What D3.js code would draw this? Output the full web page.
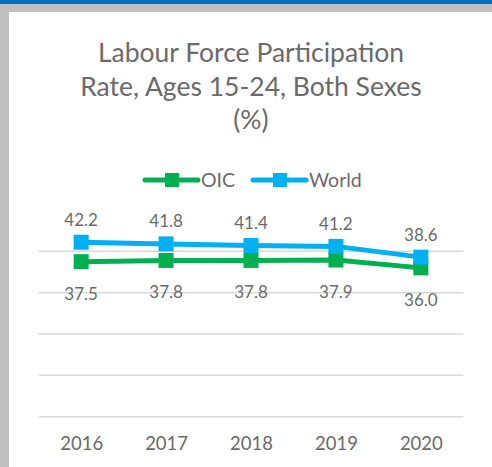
<!DOCTYPE html>
<html>
<head>
<meta charset="utf-8">
<script src="https://cdn.jsdelivr.net/npm/d3@7"></script>
<style>
    body { margin: 0; background: #fff; }
    svg text { font-family: Lato, "Open Sans", sans-serif; fill: #6a6a6a; }
</style>
</head>
<body>
<div id="chart"></div>
<script>
// chart data
let years = ["2016", "2017", "2018", "2019", "2020"];
let oicValues = [37.5, 37.8, 37.8, 37.9, 36.0];
let worldValues = [42.2, 41.8, 41.4, 41.2, 38.6];
let gridTicks = [0, 10, 20, 30, 40];
let titleLines = ["Labour Force Participation", "Rate, Ages 15-24, Both Sexes", "(%)"];

let seriesList = [
    { name: "OIC", values: oicValues, color: "#00b050", labelPos: "below" },
    { name: "World", values: worldValues, color: "#00b0f0", labelPos: "above" }
];

let width = 492, height = 467;

let svg = d3.select("#chart").append("svg")
    .attr("width", width)
    .attr("height", height);

// frame: blue top strip, grey border
svg.append("rect").attr("x", 0).attr("y", 0).attr("width", width).attr("height", 12).attr("fill", "#bfbfbf");
svg.append("rect").attr("x", 0).attr("y", 0).attr("width", 9).attr("height", height).attr("fill", "#bfbfbf");
svg.append("rect").attr("x", 0).attr("y", 0).attr("width", width).attr("height", 4).attr("fill", "#0070c0");

// title
svg.append("g").selectAll("text")
    .data(titleLines)
    .enter().append("text")
    .attr("x", 251)
    .attr("y", function(d, i) { return 62 + i * 33.5; })
    .attr("text-anchor", "middle")
    .style("font-size", "26.5px")
    .text(function(d) { return d; });

// scales
let x = d3.scalePoint()
    .domain(years)
    .range([38.7, 463.3])
    .padding(0.5);

let y = d3.scaleLinear()
    .domain([0, 50])
    .range([416.7, 210]);

// gridlines
svg.append("g").selectAll("line")
    .data(gridTicks)
    .enter().append("line")
    .attr("x1", 38.7)
    .attr("x2", 463.3)
    .attr("y1", function(d) { return y(d); })
    .attr("y2", function(d) { return y(d); })
    .attr("stroke", "#d9d9d9")
    .attr("stroke-width", 1.5);

// x axis labels
let xAxis = d3.axisBottom(x).tickSize(0).tickPadding(0);
let xAxisG = svg.append("g")
    .attr("transform", "translate(0," + 437 + ")")
    .call(xAxis);
xAxisG.select(".domain").remove();
xAxisG.selectAll("text")
    .attr("dy", "0.72em")
    .style("font-size", "18.5px")
    .style("font-family", "Lato, sans-serif")
    .attr("fill", "#6a6a6a");

// lines
let line = d3.line()
    .x(function(d, i) { return x(years[i]); })
    .y(function(d) { return y(d); });

let seriesG = svg.selectAll(".series")
    .data(seriesList)
    .enter().append("g")
    .attr("class", "series");

seriesG.append("path")
    .attr("d", function(d) { return line(d.values); })
    .attr("fill", "none")
    .attr("stroke", function(d) { return d.color; })
    .attr("stroke-width", 5)
    .attr("stroke-linejoin", "round");

seriesG.each(function(s) {
    let g = d3.select(this);
    g.selectAll("rect")
        .data(s.values)
        .enter().append("rect")
        .attr("x", function(d, i) { return x(years[i]) - 7.5; })
        .attr("y", function(d) { return y(d) - 7.5; })
        .attr("width", 15)
        .attr("height", 15)
        .attr("fill", s.color);

    g.selectAll("text")
        .data(s.values)
        .enter().append("text")
        .attr("x", function(d, i) { return x(years[i]); })
        .attr("y", function(d) { return s.labelPos === "above" ? y(d) - 16.5 : y(d) + 38; })
        .attr("text-anchor", "middle")
        .style("font-size", "17px")
        .text(function(d) { return d.toFixed(1); });
});

// legend
let legendItems = [
    { x: 145, s: seriesList[0] },
    { x: 253, s: seriesList[1] }
];
let legend = svg.append("g").selectAll("g")
    .data(legendItems)
    .enter().append("g")
    .attr("transform", function(d) { return "translate(" + d.x + ",180)"; });

legend.append("line")
    .attr("x1", 0).attr("x2", 53)
    .attr("stroke", function(d) { return d.s.color; })
    .attr("stroke-width", 5)
    .attr("stroke-linecap", "round");

legend.append("rect")
    .attr("x", 20).attr("y", -7)
    .attr("width", 14).attr("height", 14)
    .attr("fill", function(d) { return d.s.color; });

legend.append("text")
    .attr("x", 56)
    .attr("dy", "0.36em")
    .style("font-size", "19.5px")
    .text(function(d) { return d.s.name; });
</script>
</body>
</html>
